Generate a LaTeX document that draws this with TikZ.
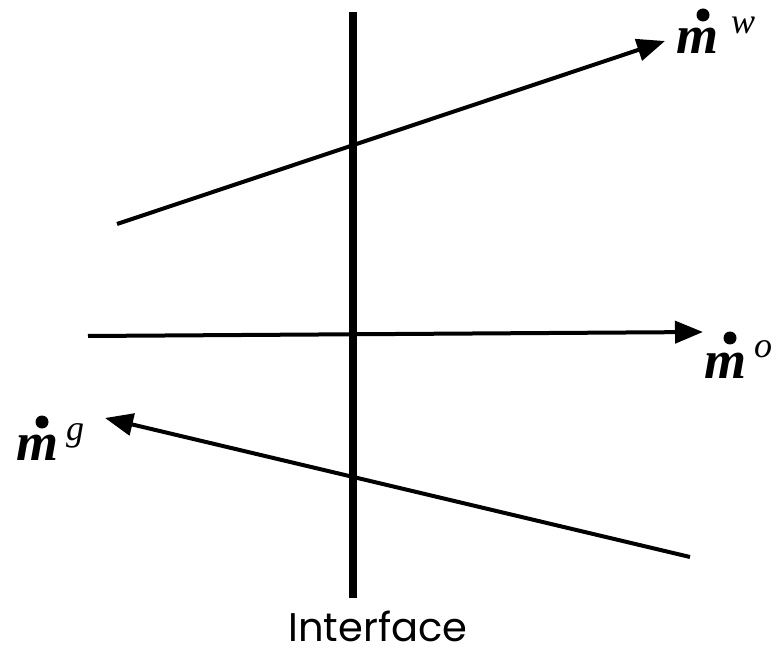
\documentclass[tikz,border=0pt]{standalone}
\usepackage{fontspec}
\setmainfont{Liberation Serif}
\newfontfamily\labelfont{Poppins}
\usetikzlibrary{arrows.meta}
\tikzset{
  flow/.style={line width=4pt, -{Triangle[length=28pt,width=22pt]}},
  iface/.style={line width=8pt},
  mbase/.style={inner sep=0pt, anchor=base west, font=\fontsize{54}{54}\selectfont\bfseries\itshape},
  msup/.style={inner sep=0pt, anchor=base west, font=\fontsize{36}{36}\selectfont\itshape},
  mdot/.style={fill=black},
}
\begin{document}
\begin{tikzpicture}[x=1pt,y=-1pt]
\useasboundingbox (0,0) rectangle (780,655);
\coordinate (ifT) at (353,12);
\coordinate (ifB) at (353,598);
\draw[iface] (ifT) -- (ifB);
\node[inner sep=0pt, anchor=base, text depth=0pt, font=\labelfont\fontsize{40}{40}\selectfont] (ilab) at (378,641) {Interface};
% top arrow
\coordinate (wS) at (117,224);
\coordinate (wE) at (665,41);
\draw[flow] (wS) -- (wE);
\node[mbase] (mw) at (676,54) {m};
\node[msup] (sw) at (731,34) {w};
\fill[mdot] (703,15) circle (6.5pt);
% middle arrow
\coordinate (oS) at (88,336);
\coordinate (oE) at (703,332);
\draw[flow] (oS) -- (oE);
\node[mbase] (mo) at (704,378) {m};
\node[msup] (so) at (754,358) {o};
\fill[mdot] (730,338) circle (6.5pt);
% bottom arrow
\coordinate (gS) at (690,557);
\coordinate (gE) at (105,418);
\draw[flow] (gS) -- (gE);
\node[mbase] (mg) at (16,460) {m};
\node[msup] (sg) at (66,440) {g};
\fill[mdot] (42,422) circle (6.5pt);
\end{tikzpicture}
\end{document}
